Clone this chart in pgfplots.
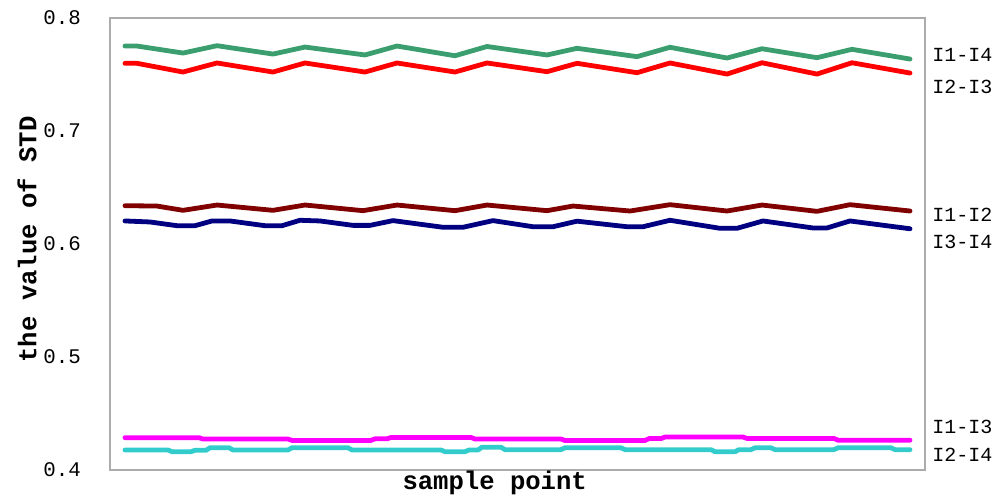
\documentclass[border=0pt]{standalone}
\usepackage{fontspec}
\setmainfont{Liberation Mono}
\usepackage{pgfplots}
\pgfplotsset{compat=1.18}
\definecolor{cgreen}{RGB}{58,158,110}
\definecolor{cred}{RGB}{255,0,0}
\definecolor{cdred}{RGB}{128,0,0}
\definecolor{cnavy}{RGB}{0,0,128}
\definecolor{cmag}{RGB}{255,0,255}
\definecolor{ccyan}{RGB}{51,204,204}
\begin{document}
\begin{tikzpicture}
\path[use as bounding box] (-55pt,-12.5pt) rectangle (444pt,235pt);
\begin{axis}[
  scale only axis, width=407.5pt, height=226pt,
  xmin=110, xmax=925, ymin=0.4, ymax=0.8,
  ytick={0.4,0.5,0.6,0.7,0.8}, xtick=\empty,
  major tick length=0pt,
  axis line style={draw=gray!65, line width=1pt},
  clip=false,
  /pgf/number format/assume math mode=true,
  yticklabel style={font=\fontsize{10.4}{12}\selectfont, xshift=-11pt,
    /pgf/number format/fixed, /pgf/number format/precision=1},
  every axis plot/.append style={line width=2.4pt, no markers, line join=round, line cap=round},
]
\addplot[cgreen] coordinates {
(125,0.7752)(137,0.7752)(183,0.7690)(217,0.7755)(273,0.7681)(305,0.7743)(365,0.7673)(397,0.7752)
(455,0.7666)(487,0.7748)(547,0.7673)(577,0.7732)(637,0.7658)(670,0.7741)(727,0.7646)(762,0.7728)
(817,0.7649)(852,0.7723)(910,0.7637)};
\addplot[cred] coordinates {
(125,0.7599)(137,0.7599)(183,0.7522)(217,0.7602)(273,0.7522)(305,0.7602)(365,0.7522)(397,0.7602)
(455,0.7522)(487,0.7602)(547,0.7525)(577,0.7599)(637,0.7516)(670,0.7602)(727,0.7504)(762,0.7604)
(817,0.7504)(852,0.7604)(910,0.7513)};
\addplot[cdred] coordinates {
(125,0.6339)(157,0.6336)(183,0.6298)(217,0.6345)(273,0.6298)(305,0.6345)(363,0.6295)(397,0.6345)
(455,0.6295)(487,0.6345)(547,0.6295)(573,0.6336)(630,0.6292)(670,0.6348)(727,0.6292)(762,0.6345)
(817,0.6289)(850,0.6348)(910,0.6292)};
\addplot[cnavy] coordinates {
(125,0.6204)(150,0.6195)(177,0.6162)(195,0.6162)(212,0.6204)(230,0.6204)(265,0.6162)(282,0.6162)
(300,0.6210)(320,0.6204)(353,0.6165)(370,0.6165)(393,0.6207)(443,0.6148)(463,0.6148)(493,0.6207)
(533,0.6153)(553,0.6153)(577,0.6202)(627,0.6153)(643,0.6153)(670,0.6210)(720,0.6139)(737,0.6139)
(763,0.6204)(813,0.6142)(827,0.6142)(850,0.6204)(910,0.6135)};
\addplot[cmag] coordinates {
(125,0.4286)(199,0.4286)(203,0.4274)(288,0.4274)(292,0.4262)(371,0.4262)(375,0.4276)(387,0.4276)
(391,0.4288)(471,0.4288)(475,0.4274)(561,0.4274)(565,0.4261)(645,0.4261)(649,0.4278)(661,0.4278)
(665,0.4292)(743,0.4292)(747,0.4279)(834,0.4279)(838,0.4264)(910,0.4264)};
\addplot[ccyan] coordinates {
(125,0.4177)(168,0.4177)(172,0.4162)(191,0.4162)(195,0.4174)(206,0.4174)(210,0.4197)(229,0.4197)
(233,0.4177)(288,0.4177)(292,0.4197)(348,0.4197)(352,0.4177)(441,0.4177)(445,0.4162)(465,0.4162)
(469,0.4177)(478,0.4177)(482,0.4202)(501,0.4202)(505,0.4180)(561,0.4180)(565,0.4197)(621,0.4197)
(625,0.4180)(711,0.4180)(715,0.4162)(735,0.4162)(739,0.4180)(751,0.4180)(755,0.4197)(771,0.4197)
(775,0.4180)(834,0.4180)(838,0.4197)(891,0.4197)(895,0.4180)(910,0.4180)};
\begin{scope}[every node/.style={anchor=west, font=\fontsize{10}{12}\selectfont, inner sep=0pt}]
\node at (axis cs:932,0.7673) {I1-I4};
\node at (axis cs:932,0.7389) {I2-I3};
\node at (axis cs:932,0.6257) {I1-I2};
\node at (axis cs:932,0.6018) {I3-I4};
\node at (axis cs:932,0.4381) {I1-I3};
\node at (axis cs:932,0.4135) {I2-I4};
\end{scope}
\node[font=\bfseries\fontsize{12.8}{14}\selectfont, anchor=center] at ([yshift=-6.5pt]rel axis cs:0.472,0) {sample point};
\node[font=\bfseries\fontsize{12.8}{14}\selectfont, anchor=center, rotate=90] at ([xshift=-41.5pt]rel axis cs:0,0.51) {the value of STD};
\end{axis}
\end{tikzpicture}
\end{document}
